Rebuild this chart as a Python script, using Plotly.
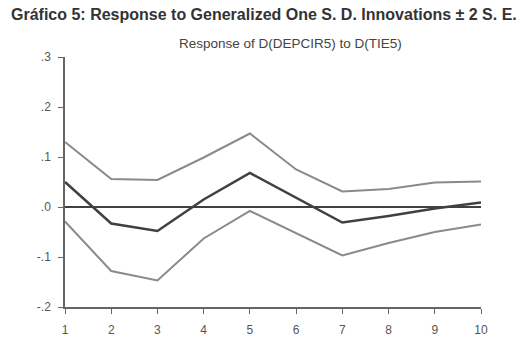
import plotly.graph_objects as go

periods = [1, 2, 3, 4, 5, 6, 7, 8, 9, 10]
response = [0.050, -0.033, -0.048, 0.015, 0.068, 0.019, -0.031, -0.018, -0.003, 0.009]
upper = [0.130, 0.056, 0.054, 0.099, 0.147, 0.075, 0.031, 0.036, 0.049, 0.051]
lower = [-0.029, -0.128, -0.147, -0.063, -0.008, -0.052, -0.097, -0.072, -0.050, -0.035]
ytick_vals = [-0.2, -0.1, 0.0, 0.1, 0.2, 0.3]
ytick_text = ["-.2", "-.1", ".0", ".1", ".2", ".3"]

title_text = "Gráfico 5: Response to Generalized One S. D. Innovations \u00b1 2 S. E."
subtitle_text = "Response of D(DEPCIR5) to D(TIE5)"

fig = go.Figure()
for ys in (upper, lower):
    fig.add_trace(go.Scatter(x=periods, y=ys, mode="lines",
                             line=dict(color="#8a8a8a", width=2),
                             showlegend=False, hoverinfo="skip"))
fig.add_trace(go.Scatter(x=periods, y=response, mode="lines",
                         line=dict(color="#404040", width=2.5),
                         showlegend=False))

fig.update_layout(
    width=529, height=348,
    margin=dict(l=65, r=48, t=57, b=41),
    paper_bgcolor="white", plot_bgcolor="white",
    font=dict(family="Liberation Sans, Arial, sans-serif", color="#555555", size=12),
    annotations=[
        dict(text="<b>" + title_text + "</b>", xref="paper", yref="paper",
             x=0.5, y=1, xanchor="center", yanchor="middle", yshift=43, xshift=-9,
             showarrow=False, font=dict(size=16, color="#333333")),
        dict(text=subtitle_text, xref="paper", yref="paper",
             x=0.5, y=1, xanchor="center", yanchor="middle", yshift=14, xshift=17,
             showarrow=False, font=dict(size=13.5, color="#444444")),
    ],
)
fig.update_xaxes(range=[1, 10], tickvals=periods, ticks="outside", ticklen=5,
                 tickcolor="#666666", showline=True, linecolor="#666666", linewidth=1.5,
                 showgrid=False, zeroline=False, ticklabelstandoff=6,
                 tickfont=dict(size=12, color="#555555"))
fig.update_yaxes(range=[-0.2, 0.3], tickvals=ytick_vals, ticktext=ytick_text,
                 ticks="outside", ticklen=5, tickcolor="#666666", showline=True,
                 linecolor="#666666", linewidth=1.5, showgrid=False,
                 zeroline=True, zerolinecolor="#404040", zerolinewidth=2,
                 ticklabelstandoff=5, tickfont=dict(size=12, color="#555555"))

fig.write_html("out.html", config={"displayModeBar": False},
               post_script="document.body.style.margin='0';")
